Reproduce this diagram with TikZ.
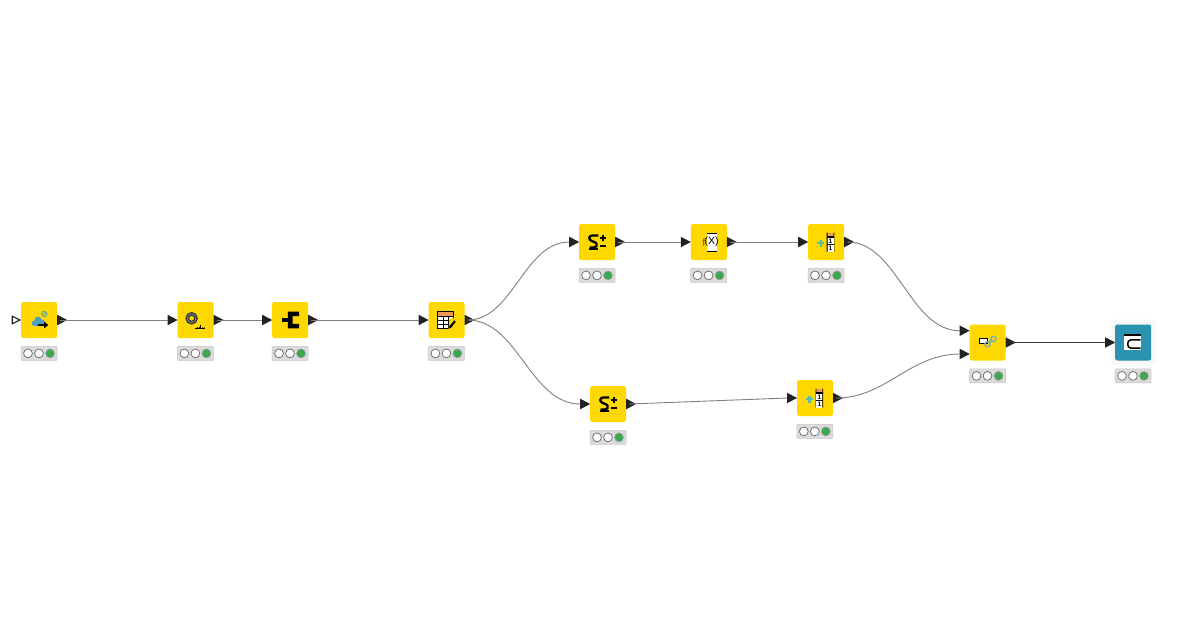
\documentclass[tikz,border=0pt]{standalone}
\usepackage{fontspec}
\setmainfont{Liberation Sans}
\usetikzlibrary{shapes.geometric,calc}
\definecolor{knimey}{HTML}{FFD800}
\definecolor{kteal}{HTML}{2A94B0}
\definecolor{kgreen}{HTML}{3AA94C}
\definecolor{kdark}{HTML}{222222}
\definecolor{korange}{HTML}{EE9A55}
\definecolor{kblue}{HTML}{4E9EC0}
\definecolor{kmint}{HTML}{55C0A8}
\tikzset{
  x=1pt,y=-1pt,
  wfbox/.style={draw=none,rounded corners=2.2pt,minimum size=36pt,inner sep=0pt,fill=knimey},
  statusbox/.style={draw=black!22,fill=black!14,line width=.5pt,minimum width=36pt,minimum height=14pt,inner sep=0pt,rounded corners=.6pt},
  lamp/.style={circle,draw=black!60,line width=.7pt,minimum size=8.8pt,inner sep=0pt,fill=white},
  lampon/.style={lamp,fill=kgreen,draw=black!40},
  portshape/.style={isosceles triangle,isosceles triangle stretches,shape border rotate=0,fill=kdark,draw=none,inner sep=0pt,minimum height=10pt,minimum width=10.5pt,outer sep=0pt},
  varport/.style={portshape,fill=white,draw=kdark,line width=1.1pt,minimum height=7.6pt,minimum width=7.6pt},
  conn/.style={draw=black!50,line width=.9pt},
  conndark/.style={draw=black!80,line width=.8pt},
}
\newcommand{\wfnode}[4][]{%
  \node[wfbox,#1] (#2) at (#3,#4) {};
  \node[statusbox] (#2-st) at ($(#2.center)+(-0.2,33.4)$) {};
  \node[lamp] (#2-l1) at ($(#2-st.center)+(-11,0)$) {};
  \node[lamp] (#2-l2) at ($(#2-st.center)+(0,0)$) {};
  \node[lampon] (#2-l3) at ($(#2-st.center)+(11,0)$) {};
}
\newcommand{\inport}[3]{\node[portshape,anchor=apex] (#1) at ($(#2.center)+(-18,#3)$) {};}
\newcommand{\outport}[2]{\node[portshape,anchor=west] (#1) at ($(#2.center)+(18,0)$) {};}
\newcommand{\iconSum}{%
  \draw[line width=2.3pt,line join=round] (1.2,-6.6) -- (-4.5,-6.6) .. controls (-9,-6.6) and (-9,-2) .. (-5,-.8) .. controls (-1,.4) and (1,2) .. (-.6,4.2) .. controls (-1.4,5.4) and (-4,5.6) .. (-7.6,5.6);
  \draw[line width=1.8pt] (-8.2,7) -- (1.2,7);
  \draw[line width=1.5pt] (5.7,-7.2) -- (5.7,-.8) (2.5,-4) -- (8.9,-4);
  \draw[line width=1.5pt] (2.5,4) -- (8.9,4);
}
\newcommand{\iconColumn}{%
  \draw[line width=2.2pt,kmint] (-5.5,-2) -- (-5.5,4.6) (-8.8,1.3) -- (-2.2,1.3);
  \fill[korange] (.5,-9.3) rectangle (8.1,-5);
  \fill[black] (.5,-9.3) rectangle (1.3,9.7) (7.3,-9.3) rectangle (8.1,9.7);
  \fill[white] (1.3,-5) rectangle (7.3,9.7);
  \draw[line width=1.2pt] (.5,-5) -- (8.1,-5) (.5,2.5) -- (8.1,2.5);
  \node[font=\bfseries\fontsize{6.5}{6.5}\selectfont,inner sep=0pt] (col1) at (4.3,-1.2) {1};
  \node[font=\bfseries\fontsize{6.5}{6.5}\selectfont,inner sep=0pt] (col2) at (4.3,6.3) {1};
}
\begin{document}
\begin{tikzpicture}
\useasboundingbox (0,0) rectangle (1200,630);
\fill[white] (0,0) rectangle (1200,630);

\wfnode{a}{39.2}{320}{}
\wfnode{b}{195.6}{320}{}
\wfnode{c}{290.2}{320}{}
\wfnode{d}{446.6}{320}{}
\wfnode{e}{597.2}{242}{}
\wfnode{f}{708.8}{242}{}
\wfnode{g}{826.2}{242}{}
\wfnode{h}{608.2}{404}{}
\wfnode{i}{815}{398}{}
\wfnode{j}{987.7}{342.5}{}
\fill[black!2.5,rounded corners=6pt] (1110,319.5) rectangle (1156,365.5);
\fill[black!4,rounded corners=4pt] (1113,322.5) rectangle (1153,362.5);
\wfnode[fill=kteal]{k}{1133.2}{342.5}{}

\node[varport,anchor=east] (a-var) at ($(a.center)+(-19.3,0)$) {};
\inport{b-in}{b}{0}
\inport{c-in}{c}{0}
\inport{d-in}{d}{0}
\inport{e-in}{e}{0}
\inport{f-in}{f}{0}
\inport{g-in}{g}{0}
\inport{h-in}{h}{0}
\inport{i-in}{i}{0}
\inport{j-in1}{j}{-11.8}
\inport{j-in2}{j}{11.5}
\inport{k-in}{k}{0}
\outport{a-out}{a}
\outport{b-out}{b}
\outport{c-out}{c}
\outport{d-out}{d}
\outport{e-out}{e}
\outport{f-out}{f}
\outport{g-out}{g}
\outport{h-out}{h}
\outport{i-out}{i}
\outport{j-out}{j}

\draw[conn] (a-out.center) -- (b-in.west);
\draw[conn] (b-out.center) -- (c-in.west);
\draw[conn] (c-out.center) -- (d-in.west);
\draw[conn] (e-out.center) -- (f-in.west);
\draw[conn] (f-out.center) -- (g-in.west);
\draw[conndark] (j-out.center) -- (k-in.west);
\draw[conn] (h-out.center) -- (i-in.west);
\draw[conn] (d-out.center) .. controls ($(d-out.center)+(45,0)$) and ($(e-in.west)+(-45,0)$) .. (e-in.west);
\draw[conn] (d-out.center) .. controls ($(d-out.center)+(50,0)$) and ($(h-in.west)+(-50,0)$) .. (h-in.west);
\draw[conn] (g-out.center) .. controls ($(g-out.center)+(50,0)$) and ($(j-in1.west)+(-50,0)$) .. (j-in1.west);
\draw[conn] (i-out.center) .. controls ($(i-out.center)+(50,0)$) and ($(j-in2.west)+(-50,0)$) .. (j-in2.west);

% cloud reader
\begin{scope}[shift={(a.center)}]
  \draw[line width=1pt,kmint!60!gray] (5,-6) circle (2.6);
  \draw[line width=.8pt,kmint!60!gray] (3.2,-4.2) -- (7,-8);
  \fill[kblue] (-4.5,6) .. controls (-8.5,6) and (-8.5,.8) .. (-5,.6) .. controls (-4,-4.6) and (1,-4.6) .. (2,-.8) .. controls (6.5,-1) and (7,5.5) .. (3,6) -- cycle;
  \draw[line width=1.7pt] (-1.2,5) -- (6,5);
  \fill (5,1.6) -- (9,5) -- (5,8.4) -- cycle;
\end{scope}
% scorer ring
\begin{scope}[shift={(b.center)}]
  \draw[line width=3.6pt,black!78] (-4,-1.7) circle (4.4);
  \draw[line width=.8pt,black!50] (-4,-1.7) circle (4.4);
  \draw[line width=.7pt] (-1,8.4) -- (9.5,8.4);
  \draw[line width=.7pt] (1.5,8) -- (1.5,7.2) (5.2,8) -- (5.2,4.8) (3.3,8) -- (3.3,6.6);
  \fill (7,7.4) circle (.4) (9,7.4) circle (.4);
\end{scope}
% splitter block
\begin{scope}[shift={(c.center)}]
  \fill (-8.6,-2.2) rectangle (-0.5,2.2);
  \fill (-2.4,-8.4) -- (9,-8.4) -- (9,-3.9) -- (2.4,-3.9) -- (2.4,3.9) -- (9,3.9) -- (9,8.4) -- (-2.4,8.4) -- cycle;
\end{scope}
% table editor
\begin{scope}[shift={(d.center)}]
  \fill[korange] (-8.8,-8.8) rectangle (6.6,-4);
  \fill[white] (-8.8,-4) rectangle (6.6,8);
  \draw[line width=.9pt] (-8.8,-8.8) rectangle (6.6,8);
  \draw[line width=.9pt] (-8.8,-4) -- (6.6,-4) (-8.8,0) -- (6.6,0) (-8.8,4) -- (6.6,4) (-3.6,-4) -- (-3.6,8) (1.4,-4) -- (1.4,8);
  \fill[knimey] (3,-1.6) -- (10,-1.6) -- (10,9) -- (2,9) -- cycle;
  \fill (7.6,.4) -- (9.2,1.8) -- (4.4,7.8) -- (2.4,8.6) -- (2.8,6.2) -- cycle;
\end{scope}
\begin{scope}[shift={(e.center)}]\iconSum\end{scope}
\begin{scope}[shift={(h.center)}]\iconSum\end{scope}
% math formula
\begin{scope}[shift={(f.center)}]
  \fill[white] (-2.3,-8.4) rectangle (7.7,9.2);
  \draw[line width=.9pt] (-2.3,-8.4) -- (7.7,-8.4) (-2.3,9.2) -- (7.7,9.2);
  \node[font=\fontsize{11}{11}\selectfont,text=black!65,inner sep=0pt] (fsym) at (-4.9,0.2) {f};
  \node[font=\fontsize{10.5}{10.5}\selectfont,inner sep=0pt] (xsym) at (2.7,0.2) {(X)};
\end{scope}
\begin{scope}[shift={(g.center)}]\iconColumn\end{scope}
\begin{scope}[shift={(i.center)}]\iconColumn\end{scope}
% joiner
\begin{scope}[shift={(j.center)}]
  \fill[white] (-8.4,-4.2) rectangle (-.4,.8);
  \draw[line width=1pt] (-8.4,-4.2) rectangle (-.4,.8);
  \draw[line width=1.4pt,kblue!80] (-.2,1.7) circle (2.6) (5.8,-3.6) circle (2.6);
  \draw[line width=1.4pt,kmint!60!kblue] (1.6,.1) -- (4,-2);
\end{scope}
% db icon
\begin{scope}[shift={(k.center)}]
  \fill[white] (-8.9,-8.5) rectangle (7.5,7.5);
  \draw[line width=1.5pt] (-8.9,-7.6) -- (7.5,-7.6);
  \draw[line width=1.5pt] (7.5,-2.6) -- (-2.4,-2.6) .. controls (-6.6,-2.6) and (-6.6,5.6) .. (-2.4,5.6) -- (7.5,5.6);
\end{scope}
\end{tikzpicture}
\end{document}
